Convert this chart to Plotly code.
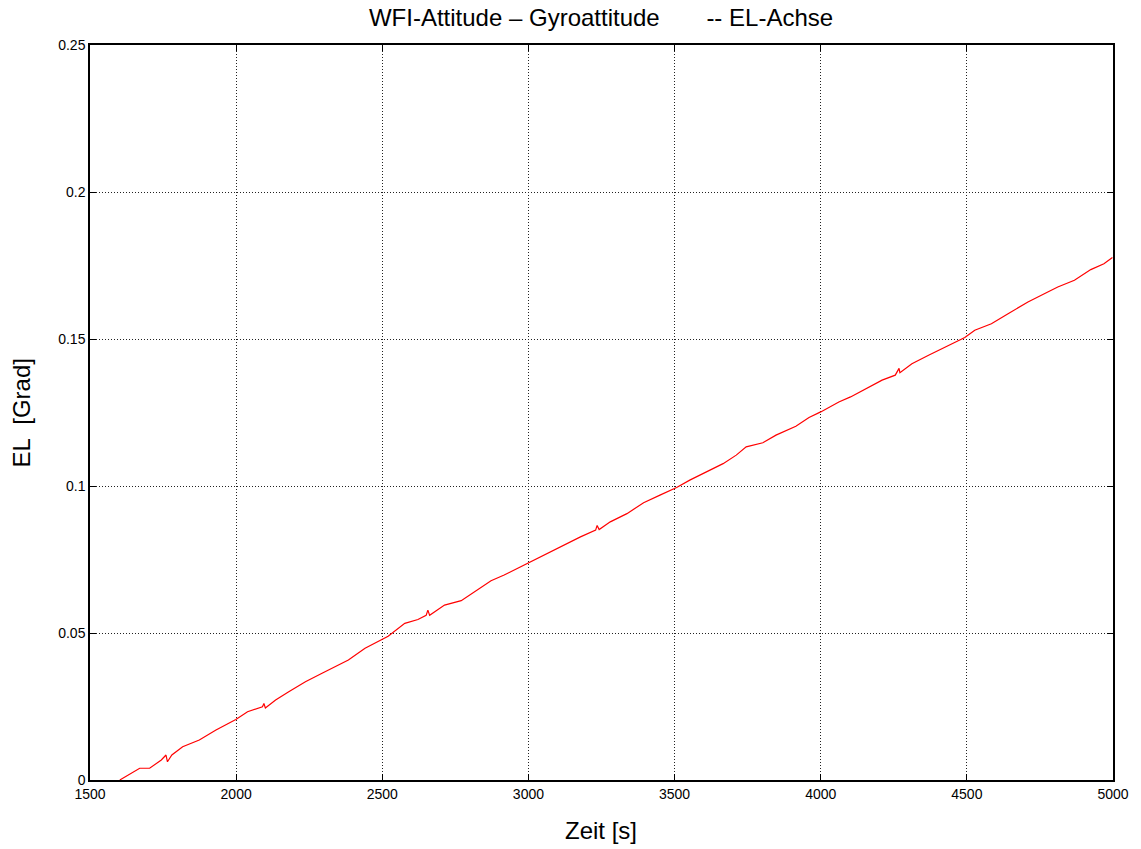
import plotly.graph_objects as go

# Time [s] and EL deviation [Grad]
zeit = [1602, 1640, 1670, 1704, 1744, 1760, 1765, 1780, 1817, 1874, 1931, 1999, 2039,
        2090, 2095, 2100, 2135, 2180, 2237, 2294, 2339, 2384, 2441, 2486, 2520, 2577,
        2622, 2650, 2656, 2662, 2713, 2770, 2815, 2872, 2917, 2963, 3002, 3065, 3121,
        3178, 3230, 3235, 3242, 3280, 3337, 3394, 3450, 3507, 3552, 3609, 3666, 3711,
        3745, 3802, 3847, 3915, 3960, 4000, 4062, 4102, 4153, 4210, 4255, 4268, 4271,
        4312, 4369, 4414, 4459, 4493, 4527, 4584, 4641, 4709, 4765, 4811, 4868, 4924,
        4969, 4998]
el = [0.0000, 0.0022, 0.0040, 0.0040, 0.0068, 0.0085, 0.0062, 0.0085, 0.0113, 0.0136,
      0.0170, 0.0206, 0.0232, 0.0249, 0.0260, 0.0245, 0.0272, 0.0300, 0.0334, 0.0363,
      0.0385, 0.0408, 0.0448, 0.0470, 0.0489, 0.0533, 0.0546, 0.0560, 0.0578, 0.0560,
      0.0595, 0.0610, 0.0640, 0.0678, 0.0697, 0.0720, 0.0739, 0.0771, 0.0799, 0.0827,
      0.0850, 0.0866, 0.0852, 0.0878, 0.0906, 0.0943, 0.0969, 0.0995, 0.1020, 0.1048,
      0.1076, 0.1105, 0.1133, 0.1147, 0.1173, 0.1203, 0.1233, 0.1252, 0.1286, 0.1303,
      0.1331, 0.1360, 0.1377, 0.1400, 0.1385, 0.1416, 0.1445, 0.1467, 0.1490, 0.1505,
      0.1530, 0.1552, 0.1586, 0.1626, 0.1654, 0.1677, 0.1700, 0.1736, 0.1756, 0.1777]

x_ticks = [1500, 2000, 2500, 3000, 3500, 4000, 4500, 5000]
y_ticks = [0, 0.05, 0.1, 0.15, 0.2, 0.25]
y_labels = ["0", "0.05", "0.1", "0.15", "0.2", "0.25"]

W, H = 1141, 849
L, R, T, B = 90, 21, 45, 69
pw, ph = W - L - R, H - T - B

fig = go.Figure()
fig.add_trace(go.Scatter(x=zeit, y=el, mode="lines",
                         line=dict(color="#ff0000", width=1.2), showlegend=False))

font = "Liberation Sans, Arial, sans-serif"
axis_common = dict(showline=True, linecolor="black", linewidth=1.5, mirror="ticks",
                   ticks="inside", ticklen=6, tickcolor="black", tickwidth=1,
                   showgrid=True, gridcolor="#222222", gridwidth=1, griddash="1px,2px",
                   zeroline=False, tickfont=dict(family=font, size=14, color="black"))

fig.update_xaxes(range=[1500, 5000], tickvals=x_ticks, **axis_common)
fig.update_yaxes(range=[0, 0.25], tickvals=y_ticks, ticktext=y_labels, **axis_common)

fig.add_annotation(text="Zeit [s]", xref="paper", yref="paper",
                   x=(604 - L) / pw, y=(H - B - 830) / ph, showarrow=False,
                   xanchor="center", yanchor="middle",
                   font=dict(family=font, size=24, color="black"))
fig.add_annotation(text="EL\u00a0\u00a0[Grad]", xref="paper", yref="paper", textangle=-90,
                   x=(22 - L) / pw, y=(H - B - 413) / ph, showarrow=False,
                   xanchor="center", yanchor="middle",
                   font=dict(family=font, size=24, color="black"))

fig.update_layout(
    width=W, height=H,
    margin=dict(l=L, r=R, t=T, b=B),
    plot_bgcolor="white", paper_bgcolor="white",
    title=dict(text="WFI-Attitude \u2013 Gyroattitude" + "\u00a0" * 6 + " -- EL-Achse",
               x=601 / W, xanchor="center", y=1 - 18 / H, yanchor="middle",
               font=dict(family=font, size=24, color="black")),
)

fig.write_html("out.html",
               post_script="document.documentElement.style.overflow='hidden';"
                           "document.body.style.overflow='hidden';"
                           "document.body.style.margin='0';")
